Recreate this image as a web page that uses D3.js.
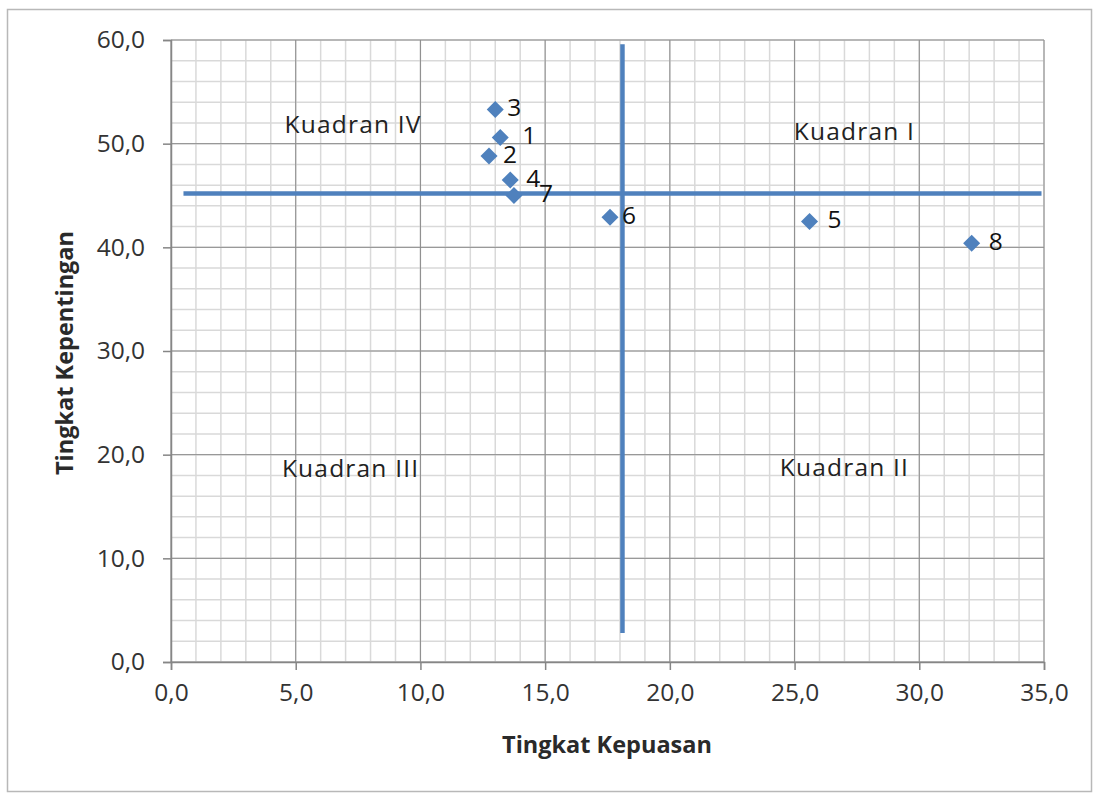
<!DOCTYPE html>
<html>
<head>
<meta charset="utf-8">
<script src="https://cdn.jsdelivr.net/npm/d3@7"></script>
<style>
  html, body { margin: 0; padding: 0; background: #fff; }
  svg { display: block; font-family: "Open Sans", "DejaVu Sans", sans-serif; }
</style>
</head>
<body>
<svg id="chart" width="1094" height="794"></svg>
<script>
// Attribute numbers (labels) with satisfaction (x) and importance (y) scores
const pointIds = ["1", "2", "3", "4", "5", "6", "7", "8"];
const kepuasan = [13.2, 12.75, 13.0, 13.6, 25.6, 17.6, 13.75, 32.1];
const kepentingan = [50.6, 48.8, 53.3, 46.5, 42.5, 42.9, 45.0, 40.4];

// Quadrant divider lines (average values)
const meanKepuasan = 18.1;
const meanKepentingan = 45.2;
const vLineRange = [2.8, 59.6];
const hLineRange = [0.5, 34.9];

// Axis ticks
const xTicks = [0, 5, 10, 15, 20, 25, 30, 35];
const yTicks = [0, 10, 20, 30, 40, 50, 60];

// Quadrant names and their anchor points in data space (text baseline)
const quadrantNames = ["Kuadran I", "Kuadran II", "Kuadran III", "Kuadran IV"];
const quadrantPos = [[27.4, 50.4], [27.0, 17.9], [7.2, 17.8], [7.3, 51.0]];

const svg = d3.select("#chart");
const blue = "#4f81bd";

// Outer chart frame
svg.append("rect")
  .attr("x", 7.5).attr("y", 9.5)
  .attr("width", 1084).attr("height", 782)
  .attr("fill", "#fff").attr("stroke", "#b8b8b8").attr("stroke-width", 1.5);

const x = d3.scaleLinear().domain([0, 35]).range([171, 1044]);
const y = d3.scaleLinear().domain([0, 60]).range([662, 40]);

// Minor gridlines
const g = svg.append("g");
g.selectAll(".mx").data(d3.range(0, 35.01, 1))
  .join("line")
  .attr("x1", d => x(d)).attr("x2", d => x(d))
  .attr("y1", y(0)).attr("y2", y(60))
  .attr("stroke", "#d9d9d9").attr("stroke-width", 1.5);
g.selectAll(".my").data(d3.range(0, 60.01, 2))
  .join("line")
  .attr("y1", d => y(d)).attr("y2", d => y(d))
  .attr("x1", x(0)).attr("x2", x(35))
  .attr("stroke", "#d9d9d9").attr("stroke-width", 1.5);

// Major gridlines
g.selectAll(".Mx").data(xTicks)
  .join("line")
  .attr("x1", d => x(d)).attr("x2", d => x(d))
  .attr("y1", y(0)).attr("y2", y(60))
  .attr("stroke", "#8c8c8c").attr("stroke-width", 1);
g.selectAll(".My").data(yTicks)
  .join("line")
  .attr("y1", d => y(d)).attr("y2", d => y(d))
  .attr("x1", x(0)).attr("x2", x(35))
  .attr("stroke", "#8c8c8c").attr("stroke-width", 1);

const fmt = d => d.toFixed(1).replace(".", ",");

// Axes
const xAxis = svg.append("g")
  .attr("transform", `translate(0,${y(0)})`)
  .call(d3.axisBottom(x).tickValues(xTicks).tickFormat(fmt).tickSize(8).tickPadding(14));
const yAxis = svg.append("g")
  .attr("transform", `translate(${x(0)},0)`)
  .call(d3.axisLeft(y).tickValues(yTicks).tickFormat(fmt).tickSize(8).tickPadding(18));
[xAxis, yAxis].forEach(a => {
  a.select(".domain").attr("stroke", "#868686").attr("stroke-width", 1.5);
  a.selectAll(".tick line").attr("stroke", "#868686").attr("stroke-width", 1.5);
  a.selectAll(".tick text")
    .attr("fill", "#333").attr("font-size", 24.5)
    .attr("font-family", "'Open Sans', sans-serif");
});

// Axis titles
svg.append("text")
  .attr("x", 607).attr("y", 753)
  .attr("text-anchor", "middle")
  .attr("font-size", 23.5).attr("font-weight", "bold").attr("fill", "#2a2a2a")
  .text("Tingkat Kepuasan");
svg.append("text")
  .attr("transform", `translate(73,353) rotate(-90)`)
  .attr("text-anchor", "middle")
  .attr("font-size", 23.5).attr("font-weight", "bold").attr("fill", "#2a2a2a")
  .text("Tingkat Kepentingan");

// Quadrant divider lines
svg.append("line")
  .attr("x1", x(hLineRange[0])).attr("x2", x(hLineRange[1]))
  .attr("y1", y(meanKepentingan)).attr("y2", y(meanKepentingan))
  .attr("stroke", blue).attr("stroke-width", 4.5);
svg.append("line")
  .attr("x1", x(meanKepuasan)).attr("x2", x(meanKepuasan))
  .attr("y1", y(vLineRange[0])).attr("y2", y(vLineRange[1]))
  .attr("stroke", blue).attr("stroke-width", 4.5);

// Quadrant names
svg.selectAll(".quad").data(quadrantNames)
  .join("text")
  .attr("x", (d, i) => x(quadrantPos[i][0]))
  .attr("y", (d, i) => y(quadrantPos[i][1]))
  .attr("text-anchor", "middle")
  .attr("font-size", 24.5).attr("letter-spacing", 1.2).attr("fill", "#222")
  .text(d => d);

// Scatter points as diamonds
const points = pointIds.map((id, i) => ({ id, x: kepuasan[i], y: kepentingan[i] }));
svg.selectAll(".pt").data(points)
  .join("path")
  .attr("d", d3.symbol(d3.symbolDiamond2, 185))
  .attr("transform", d => `translate(${x(d.x)},${y(d.y)})`)
  .attr("fill", blue);

// Point labels
const labelDx = { "1": 22, "2": 14, "3": 12, "4": 16, "5": 18, "6": 12, "7": 25, "8": 17 };
svg.selectAll(".lbl").data(points)
  .join("text")
  .attr("x", d => x(d.x) + labelDx[d.id])
  .attr("y", d => y(d.y))
  .attr("dominant-baseline", "middle")
  .attr("font-size", 24.5).attr("fill", "#111")
  .text(d => d.id);
</script>
</body>
</html>
